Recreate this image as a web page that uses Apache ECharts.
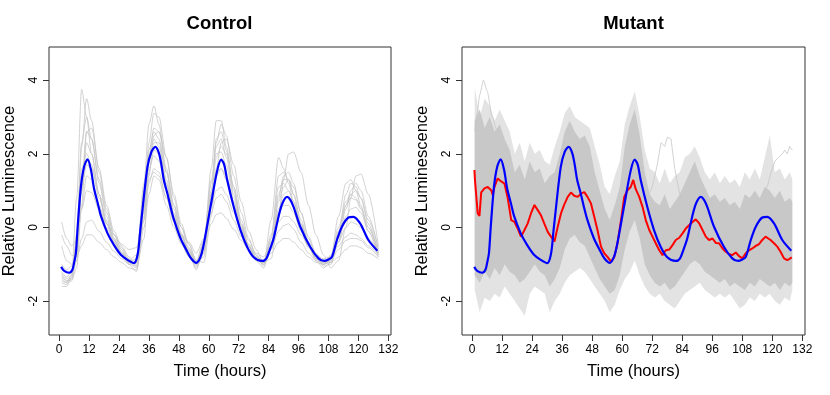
<!DOCTYPE html>
<html>
<head>
<meta charset="utf-8">
<script src="https://cdn.jsdelivr.net/npm/echarts@6/dist/echarts.min.js"></script>
<style>
html, body { margin: 0; padding: 0; background: #fff; }
#chart { width: 830px; height: 395px; }
</style>
</head>
<body>
<div id="chart"></div>
<script>
// tick positions
var xTicks = [0, 12, 24, 36, 48, 60, 72, 84, 96, 108, 120, 132]
var yTicks = [-2, 0, 2, 4]

// control: individual gray traces
var ctlTime = [1, 3, 5, 7, 9, 11, 13, 16, 19, 22, 25, 28, 31, 34, 36, 38, 40, 43, 46, 49, 52, 55, 58, 61, 63, 65, 67, 70, 73, 76, 79, 82, 85, 88, 90, 92, 94, 97, 100, 103, 106, 109, 112, 115, 117, 119, 121, 124, 128]
var traceA = [-1.4, -1.5, -1.3, 0.8, 3.75, 3.0, 2.0, 0.9, 0.1, -0.4, -0.75, -1.0, -0.9, 1.2, 2.8, 3.3, 2.8, 1.5, 0.5, -0.2, -0.7, -1.15, -0.5, 1.6, 2.9, 2.9, 2.2, 1.1, 0.1, -0.5, -0.85, -1.0, 0.2, 1.9, 1.6, 1.2, 0.7, 0.0, -0.5, -0.85, -1.0, -0.8, 0.3, 1.2, 1.3, 1.0, 0.6, -0.1, -0.8]
var traceB = [-1.5, -1.55, -1.4, -0.6, 2.2, 3.5, 2.9, 1.5, 0.5, -0.2, -0.6, -0.9, -1.0, 0.5, 2.3, 3.1, 3.0, 1.9, 0.8, 0.0, -0.55, -1.0, -0.8, 0.9, 2.3, 2.8, 2.5, 1.4, 0.4, -0.3, -0.75, -1.05, -0.6, 0.8, 1.4, 1.5, 1.2, 0.4, -0.3, -0.75, -1.05, -1.0, -0.3, 0.6, 1.0, 1.2, 1.0, 0.3, -0.6]
var traceC = [-1.3, -1.45, -1.45, -1.1, 0.6, 2.6, 2.7, 1.6, 0.6, -0.1, -0.5, -0.8, -1.05, -0.3, 1.4, 2.5, 2.6, 1.9, 0.9, 0.1, -0.45, -0.9, -0.95, 0.3, 1.6, 2.3, 2.4, 1.7, 0.7, -0.1, -0.6, -0.95, -0.85, 0.3, 1.3, 2.0, 2.05, 1.5, 0.6, -0.2, -0.75, -1.1, -0.9, 0.0, 0.8, 1.4, 1.45, 0.9, -0.5]
var traceD = [-1.2, -1.35, -1.2, -0.7, 1.0, 2.3, 2.0, 0.9, 0.1, -0.35, -0.7, -0.95, -0.85, 1.0, 2.1, 2.6, 2.4, 1.3, 0.4, -0.2, -0.6, -1.0, -0.45, 1.2, 2.2, 2.4, 1.9, 0.9, 0.05, -0.5, -0.85, -1.0, -0.3, 0.9, 1.3, 1.3, 0.9, 0.2, -0.4, -0.8, -1.0, -0.85, -0.1, 0.6, 0.8, 0.75, 0.5, 0.0, -0.7]
var traceE = [-1.0, -1.15, -1.05, -0.6, 0.5, 1.4, 1.3, 0.6, 0.0, -0.4, -0.7, -0.9, -0.75, 0.7, 1.6, 1.95, 1.8, 1.0, 0.25, -0.25, -0.6, -0.9, -0.35, 0.9, 1.5, 1.6, 1.3, 0.6, -0.05, -0.5, -0.8, -0.9, -0.4, 0.4, 0.6, 0.6, 0.4, -0.1, -0.55, -0.85, -0.95, -0.85, -0.4, 0.0, 0.15, 0.1, 0.0, -0.3, -0.7]
var traceF = [0.15, -0.3, -0.5, -0.35, 0.5, 1.0, 0.95, 0.5, 0.1, -0.2, -0.45, -0.6, -0.55, 0.5, 1.3, 1.5, 1.4, 0.8, 0.2, -0.2, -0.4, -0.7, -0.3, 0.6, 1.0, 1.1, 0.9, 0.4, -0.1, -0.45, -0.7, -0.8, -0.4, 0.15, 0.3, 0.3, 0.15, -0.2, -0.5, -0.75, -0.85, -0.8, -0.5, -0.25, -0.15, -0.2, -0.3, -0.5, -0.75]
var traceG = [-0.2, -0.5, -0.75, -0.8, -0.5, -0.2, -0.2, -0.4, -0.6, -0.8, -0.95, -1.1, -1.15, 0.0, 0.9, 1.4, 1.3, 0.6, 0.0, -0.45, -0.8, -1.05, -0.6, 0.1, 0.35, 0.4, 0.25, -0.05, -0.35, -0.6, -0.85, -0.95, -0.7, -0.4, -0.3, -0.3, -0.4, -0.6, -0.8, -0.95, -1.0, -0.95, -0.8, -0.6, -0.5, -0.5, -0.55, -0.7, -0.85]
var traceH = [-0.5, -0.9, -1.0, -0.9, -0.3, 0.15, 0.2, -0.1, -0.4, -0.65, -0.85, -1.0, -1.05, 0.2, 1.2, 1.6, 1.5, 0.8, 0.15, -0.35, -0.7, -1.0, -0.5, 0.4, 0.8, 0.9, 0.7, 0.2, -0.25, -0.6, -0.85, -0.95, -0.6, -0.1, 0.05, 0.1, -0.05, -0.4, -0.7, -0.9, -1.0, -0.9, -0.6, -0.35, -0.3, -0.3, -0.35, -0.55, -0.8]
var traceI = [-1.6, -1.6, -1.35, -0.2, 2.3, 3.0, 2.4, 1.2, 0.3, -0.3, -0.7, -1.0, -1.2, 0.2, 1.9, 2.7, 2.6, 1.6, 0.6, -0.15, -0.7, -1.1, -0.7, 1.0, 2.4, 2.6, 2.1, 1.0, 0.1, -0.5, -0.9, -1.1, -0.3, 1.4, 1.5, 1.3, 0.9, 0.1, -0.5, -0.9, -1.1, -0.95, -0.2, 0.9, 1.2, 1.1, 0.8, 0.1, -0.7]
var traceJ = [-1.45, -1.5, -1.3, -0.5, 1.0, 1.7, 1.6, 0.9, 0.2, -0.3, -0.65, -0.95, -1.1, 0.3, 1.5, 2.1, 2.0, 1.2, 0.35, -0.2, -0.65, -1.0, -0.6, 0.7, 1.4, 1.6, 1.4, 0.7, 0.0, -0.5, -0.85, -1.0, -0.5, 0.5, 0.9, 1.0, 0.7, 0.1, -0.45, -0.85, -1.0, -0.9, -0.4, 0.3, 0.5, 0.55, 0.4, -0.1, -0.75]
var traceK = [-1.25, -1.4, -1.3, -0.4, 1.6, 2.0, 1.7, 0.8, 0.15, -0.35, -0.7, -0.95, -0.95, 0.8, 2.0, 2.4, 2.2, 1.2, 0.3, -0.25, -0.65, -0.95, -0.4, 1.3, 2.0, 2.05, 1.7, 0.8, 0.0, -0.5, -0.8, -0.95, -0.2, 1.1, 1.2, 1.0, 0.7, 0.1, -0.45, -0.8, -0.95, -0.75, 0.0, 0.7, 0.9, 0.8, 0.55, 0.0, -0.65]
var traceL = [-1.35, -1.45, -1.4, -0.9, 1.2, 2.6, 2.4, 1.3, 0.4, -0.2, -0.55, -0.85, -0.95, 0.4, 1.8, 2.3, 2.3, 1.5, 0.6, 0.0, -0.45, -0.9, -0.7, 0.8, 1.9, 2.2, 2.0, 1.1, 0.2, -0.35, -0.75, -0.95, -0.55, 0.7, 1.1, 1.3, 1.1, 0.4, -0.25, -0.7, -0.95, -0.95, -0.4, 0.5, 0.9, 1.0, 0.8, 0.2, -0.55]

// blue: control mean (same curve on both panels)
var blueTime = [0.8, 2, 4, 5.3, 6, 6.7, 7.4, 8.7, 10, 11.4, 12.7, 14, 15.5, 16.7, 19.4, 22, 24.7, 27.4, 30, 31.5, 32.5, 33.4, 35.4, 37, 38.6, 40, 41, 42, 43.3, 44.7, 46, 48.7, 51.3, 53, 55, 56.7, 58, 60.7, 63.4, 65, 66.2, 67.4, 70, 72.7, 75.4, 78, 81.3, 83, 84.5, 86, 88, 89.5, 91.4, 92.7, 94, 96.7, 100.7, 104, 106.3, 108, 109.4, 111.4, 113.4, 116, 118, 120.7, 124, 127.6]
var blueVal = [-1.07, -1.18, -1.23, -1.15, -0.95, -0.7, 0.0, 1.1, 1.65, 1.85, 1.58, 1.05, 0.65, 0.32, -0.16, -0.48, -0.74, -0.88, -0.97, -0.72, -0.1, 0.47, 1.64, 2.05, 2.19, 2.02, 1.7, 1.28, 0.95, 0.55, 0.22, -0.3, -0.65, -0.85, -0.96, -0.8, -0.45, 0.56, 1.55, 1.84, 1.7, 1.28, 0.56, -0.07, -0.53, -0.81, -0.91, -0.85, -0.6, -0.3, 0.3, 0.65, 0.83, 0.75, 0.56, 0.02, -0.53, -0.84, -0.91, -0.87, -0.8, -0.34, 0.02, 0.27, 0.29, 0.11, -0.34, -0.63]

// red: mutant mean
var redTime = [0.9, 1.1, 2.2, 2.9, 3.6, 4.9, 6.2, 7.6, 8.2, 8.9, 10.2, 11.6, 12.9, 14.2, 15.6, 16.9, 18.2, 19.5, 20.9, 22.2, 23.5, 24.9, 26.2, 27.5, 28.8, 30.2, 31.5, 32.9, 34.2, 35.5, 36.8, 38.2, 39.5, 40.8, 42.2, 43.5, 44.8, 46.1, 47.5, 48.8, 50.1, 51.5, 52.8, 54.1, 55.5, 56.8, 58.1, 59.5, 60.8, 62.1, 63.4, 64.4, 65.4, 66.8, 68.1, 69.4, 70.8, 72.1, 73.4, 74.8, 76.1, 77.4, 78.8, 80.1, 81.4, 82.8, 84.1, 85.4, 86.7, 88.1, 89.4, 90.7, 92.1, 93.4, 94.7, 96.1, 97.4, 98.7, 100.1, 101.4, 102.7, 104, 105.4, 106.7, 108, 109.4, 110.7, 112, 113.4, 114.7, 116, 117.3, 118, 119.3, 120.7, 122, 123.3, 124.7, 126, 127.8]
var redVal = [1.56, 1.29, 0.38, 0.31, 0.95, 1.06, 1.1, 1.01, 0.88, 1.1, 1.33, 1.25, 1.19, 0.8, 0.2, 0.15, -0.03, -0.25, -0.07, 0.11, 0.38, 0.61, 0.47, 0.33, 0.11, -0.12, -0.25, -0.38, 0.02, 0.38, 0.62, 0.83, 0.95, 0.86, 0.83, 0.92, 0.96, 0.83, 0.65, 0.29, -0.07, -0.52, -0.7, -0.8, -0.93, -0.8, -0.43, 0.2, 0.83, 1.01, 1.1, 1.29, 1.04, 0.83, 0.56, 0.2, -0.07, -0.25, -0.43, -0.62, -0.75, -0.62, -0.6, -0.48, -0.34, -0.28, -0.16, -0.03, 0.06, 0.15, 0.22, 0.12, -0.07, -0.25, -0.34, -0.3, -0.42, -0.43, -0.57, -0.66, -0.72, -0.75, -0.68, -0.78, -0.84, -0.7, -0.62, -0.57, -0.5, -0.45, -0.34, -0.25, -0.21, -0.34, -0.43, -0.52, -0.66, -0.84, -0.89, -0.81]

// mutant: envelope of the gray traces (outer extent and dense core)
var mutTime = [1, 3, 5, 7, 9, 11, 13, 15, 17, 19, 21, 23, 25, 27, 29, 31, 33, 35, 37, 39, 41, 43, 45, 47, 49, 51, 53, 55, 57, 59, 61, 63, 65, 67, 69, 71, 73, 75, 77, 79, 81, 83, 85, 87, 89, 91, 93, 95, 97, 99, 101, 103, 105, 107, 109, 111, 113, 115, 117, 119, 121, 123, 125, 127, 128]
var outerHi = [3.8, 3.0, 3.5, 3.3, 2.9, 3.2, 2.9, 2.6, 2.0, 2.3, 1.8, 2.3, 2.0, 2.1, 1.8, 1.7, 2.2, 2.6, 3.1, 3.3, 3.0, 2.9, 2.8, 2.7, 2.2, 1.7, 1.1, 0.9, 1.4, 1.8, 2.8, 3.3, 3.7, 3.0, 2.1, 1.6, 1.5, 1.2, 1.6, 1.2, 1.4, 1.5, 1.9, 2.0, 2.2, 1.9, 1.5, 1.3, 1.5, 1.2, 1.4, 1.2, 1.3, 1.1, 1.5, 1.3, 1.6, 1.3, 1.9, 2.5, 1.5, 1.6, 1.3, 1.5, 1.3]
var outerLo = [-1.7, -2.3, -1.9, -2.0, -1.8, -1.9, -1.6, -1.8, -2.0, -2.2, -2.4, -1.8, -1.6, -1.7, -1.8, -2.3, -2.0, -1.8, -1.5, -1.3, -1.2, -1.1, -1.2, -1.4, -1.6, -1.8, -2.0, -2.3, -2.1, -1.7, -1.4, -1.2, -0.9, -1.3, -1.6, -1.8, -1.9, -1.8, -2.0, -2.1, -2.2, -2.0, -1.8, -1.7, -1.6, -1.5, -1.7, -1.8, -1.9, -1.8, -1.9, -1.8, -2.0, -2.2, -2.1, -1.9, -2.0, -1.8, -1.9, -1.8, -2.0, -2.1, -1.9, -2.0, -1.7]
var coreHi = [2.9, 3.2, 2.7, 3.0, 2.6, 2.8, 2.4, 2.1, 1.5, 1.7, 1.3, 1.8, 1.5, 1.6, 1.2, 1.4, 1.5, 2.0, 2.6, 2.9, 2.6, 2.4, 2.5, 2.2, 1.5, 1.0, 0.5, 0.2, 0.6, 1.1, 2.2, 2.8, 3.2, 2.5, 1.5, 0.9, 0.7, 0.6, 0.9, 0.5, 0.7, 0.9, 1.2, 1.5, 1.8, 1.4, 1.1, 0.8, 0.9, 0.7, 0.8, 0.6, 0.7, 0.5, 0.9, 0.8, 1.0, 0.8, 1.1, 1.0, 0.8, 1.0, 0.7, 0.8, 0.7]
var coreLo = [-1.3, -1.5, -1.2, -1.4, -1.1, -1.3, -1.0, -1.2, -1.3, -1.5, -1.4, -1.2, -1.0, -1.2, -1.3, -1.6, -1.4, -1.1, -0.6, -0.3, -0.2, -0.4, -0.5, -0.8, -1.1, -1.4, -1.6, -1.8, -1.7, -1.3, -0.6, -0.1, 0.2, -0.3, -1.0, -1.3, -1.5, -1.6, -1.5, -1.7, -1.6, -1.4, -1.2, -1.0, -0.9, -1.0, -1.2, -1.3, -1.4, -1.5, -1.4, -1.6, -1.5, -1.6, -1.7, -1.5, -1.6, -1.4, -1.5, -1.6, -1.5, -1.7, -1.5, -1.6, -1.5]

// mutant: a few traces standing out of the mass
var oddATime = [1, 2, 3, 4.5, 6, 8, 10, 13, 16]
var oddAVal = [2.6, 3.1, 3.6, 4.0, 3.7, 3.0, 2.6, 2.2, 1.5]
var oddBTime = [108, 111, 114, 116, 118, 119.5, 121, 122.5, 124, 125, 126, 127, 128]
var oddBVal = [0.2, 0.5, 0.6, 0.9, 1.1, 1.5, 1.8, 1.9, 2.0, 2.1, 2.0, 2.2, 2.1]
var oddCTime = [70, 72, 74, 75.5, 77, 78, 79.5, 81, 83, 85]
var oddCVal = [0.8, 1.1, 1.7, 2.3, 2.2, 2.45, 2.4, 1.6, 0.9, 0.5]

var FONT = '"Liberation Sans", Arial, sans-serif'
var GRAY = '#c6c6c6'

function pairs(t, v) {
  return t.map(function (x, i) { return [x, v[i]] })
}

function grayLine(idx, t, v, smooth) {
  return {
    type: 'line', xAxisIndex: idx, yAxisIndex: idx,
    data: pairs(t, v), symbol: 'none', smooth: smooth, smoothMonotone: 'x',
    silent: true, lineStyle: { color: GRAY, width: 0.8 }
  }
}

function band(idx, lo, hi, color) {
  return {
    type: 'custom', xAxisIndex: idx, yAxisIndex: idx, silent: true,
    data: [[mutTime[0], hi[0]]],
    renderItem: function (params, api) {
      var pts = []
      for (var i = 0; i < mutTime.length; i++) pts.push(api.coord([mutTime[i], hi[i]]))
      for (var j = mutTime.length - 1; j >= 0; j--) pts.push(api.coord([mutTime[j], lo[j]]))
      return { type: 'polygon', shape: { points: pts }, style: { fill: color } }
    }
  }
}

function xAxisFor(idx) {
  return {
    type: 'value', gridIndex: idx, min: -4.08, max: 133.08,
    splitLine: { show: false },
    axisLine: { show: false, onZero: false },
    axisTick: { show: true, length: 6, customValues: xTicks, lineStyle: { color: '#333' } },
    axisLabel: { customValues: xTicks, fontSize: 12, color: '#000', margin: 9, fontFamily: FONT },
    name: 'Time (hours)', nameLocation: 'middle', nameGap: 28,
    nameTextStyle: { fontSize: 16.5, color: '#000', fontFamily: FONT }
  }
}

function yAxisFor(idx) {
  return {
    type: 'value', gridIndex: idx, min: -2.92, max: 4.9,
    splitLine: { show: false },
    axisLine: { show: false, onZero: false },
    axisTick: { show: true, length: 6, customValues: yTicks, lineStyle: { color: '#333' } },
    axisLabel: { customValues: yTicks, rotate: 90, fontSize: 12, color: '#000', margin: 9, fontFamily: FONT },
    name: 'Relative Luminescence', nameLocation: 'middle', nameRotate: 90, nameGap: 31,
    nameTextStyle: { fontSize: 16.5, color: '#000', fontFamily: FONT }
  }
}

var controlTraces = [traceA, traceB, traceC, traceD, traceE, traceF, traceG, traceH, traceI, traceJ, traceK, traceL]

var series = []
controlTraces.forEach(function (tr) {
  series.push(grayLine(0, ctlTime, tr, 0.3))
})
series.push({
  type: 'line', xAxisIndex: 0, yAxisIndex: 0, data: pairs(blueTime, blueVal),
  symbol: 'none', smooth: 0.3, silent: true, lineStyle: { color: '#0000ff', width: 2.2 }
})

series.push(band(1, outerLo, outerHi, '#e3e3e3'))
series.push(band(1, coreLo, coreHi, '#c8c8c8'))
series.push(grayLine(1, oddATime, oddAVal, 0.2))
series.push(grayLine(1, oddBTime, oddBVal, 0))
series.push(grayLine(1, oddCTime, oddCVal, 0))
series.push({
  type: 'line', xAxisIndex: 1, yAxisIndex: 1, data: pairs(redTime, redVal),
  symbol: 'none', silent: true, lineStyle: { color: '#ff0000', width: 2 }
})
series.push({
  type: 'line', xAxisIndex: 1, yAxisIndex: 1, data: pairs(blueTime, blueVal),
  symbol: 'none', smooth: 0.3, silent: true, lineStyle: { color: '#0000ff', width: 2.2 }
})

var chart = echarts.init(document.getElementById('chart'), null, { renderer: 'canvas' })
chart.setOption({
  animation: false,
  backgroundColor: '#fff',
  grid: [
    { left: 48, top: 47, width: 343, height: 288, show: true, borderColor: '#333', borderWidth: 1 },
    { left: 462, top: 47, width: 343, height: 288, show: true, borderColor: '#333', borderWidth: 1 }
  ],
  xAxis: [xAxisFor(0), xAxisFor(1)],
  yAxis: [yAxisFor(0), yAxisFor(1)],
  graphic: [
    { type: 'text', x: 219.5, y: 24, style: { text: 'Control', font: 'bold 18.5px ' + FONT, fill: '#000', align: 'center', verticalAlign: 'middle' } },
    { type: 'text', x: 633.5, y: 24, style: { text: 'Mutant', font: 'bold 18.5px ' + FONT, fill: '#000', align: 'center', verticalAlign: 'middle' } }
  ],
  series: series
})
</script>
</body>
</html>
